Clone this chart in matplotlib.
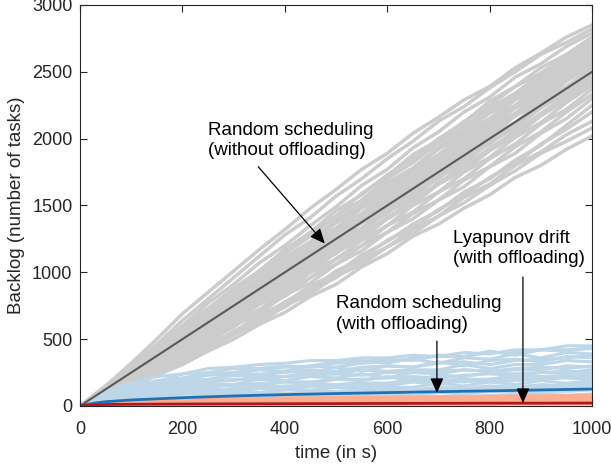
import matplotlib.pyplot as plt
import numpy as np

plt.rcParams['font.family'] = ['Liberation Sans', 'DejaVu Sans']

# sample times of the individual runs (every 50 s)
t = np.arange(0, 1001, 50)

# Random scheduling without offloading - individual runs
gray_runs = [
    [0, 150, 320, 500, 690, 850, 1010, 1170, 1320, 1480, 1620, 1770, 1890, 2040, 2160, 2290, 2390, 2530, 2640, 2760, 2850],
    [0, 140, 310, 460, 640, 800, 960, 1120, 1280, 1410, 1570, 1700, 1850, 1980, 2130, 2240, 2380, 2500, 2630, 2720, 2820],
    [0, 130, 290, 450, 600, 770, 910, 1070, 1200, 1350, 1490, 1650, 1770, 1930, 2050, 2200, 2310, 2460, 2560, 2690, 2790],
    [0, 150, 290, 430, 590, 730, 880, 1010, 1170, 1300, 1460, 1580, 1730, 1850, 2000, 2120, 2280, 2390, 2530, 2630, 2760],
    [0, 120, 280, 420, 570, 710, 850, 1010, 1140, 1300, 1420, 1590, 1720, 1880, 1990, 2130, 2250, 2390, 2490, 2620, 2730],
    [0, 140, 270, 420, 560, 700, 860, 980, 1140, 1270, 1420, 1540, 1700, 1820, 1970, 2090, 2230, 2340, 2480, 2590, 2710],
    [0, 130, 270, 390, 550, 670, 830, 950, 1110, 1230, 1390, 1510, 1670, 1780, 1940, 2060, 2210, 2320, 2470, 2570, 2700],
    [0, 120, 250, 390, 510, 660, 780, 940, 1060, 1220, 1330, 1490, 1610, 1760, 1880, 2030, 2150, 2300, 2420, 2560, 2690],
    [0, 110, 260, 380, 530, 650, 810, 930, 1090, 1210, 1370, 1490, 1640, 1770, 1920, 2040, 2190, 2300, 2450, 2560, 2680],
    [0, 130, 240, 380, 500, 650, 770, 920, 1050, 1200, 1320, 1480, 1600, 1750, 1870, 2020, 2140, 2290, 2400, 2540, 2660],
    [0, 120, 250, 360, 510, 620, 780, 890, 1050, 1170, 1320, 1440, 1600, 1720, 1870, 1990, 2140, 2250, 2400, 2520, 2650],
    [0, 100, 250, 350, 500, 610, 770, 880, 1040, 1150, 1310, 1420, 1580, 1690, 1850, 1960, 2120, 2230, 2380, 2500, 2630],
    [0, 110, 230, 370, 480, 620, 750, 880, 1010, 1160, 1280, 1420, 1560, 1690, 1820, 1970, 2090, 2240, 2360, 2500, 2620],
    [0, 130, 230, 370, 480, 630, 740, 890, 1010, 1160, 1280, 1430, 1540, 1700, 1810, 1960, 2080, 2230, 2340, 2490, 2610],
    [0, 110, 240, 340, 490, 600, 740, 860, 1010, 1120, 1280, 1390, 1540, 1660, 1810, 1930, 2080, 2190, 2350, 2460, 2600],
    [0, 100, 230, 330, 470, 580, 730, 840, 990, 1100, 1250, 1370, 1520, 1630, 1790, 1900, 2050, 2170, 2320, 2440, 2580],
    [0, 100, 210, 340, 450, 590, 700, 840, 970, 1110, 1230, 1380, 1500, 1640, 1760, 1910, 2030, 2180, 2300, 2440, 2560],
    [0, 120, 220, 350, 450, 600, 700, 850, 960, 1110, 1220, 1370, 1480, 1630, 1750, 1900, 2010, 2170, 2280, 2430, 2550],
    [0, 100, 220, 320, 460, 560, 710, 810, 960, 1070, 1220, 1330, 1490, 1600, 1750, 1860, 2010, 2120, 2280, 2390, 2530],
    [0, 90, 200, 310, 440, 550, 690, 800, 940, 1060, 1200, 1320, 1460, 1580, 1720, 1850, 1990, 2110, 2250, 2380, 2510],
    [0, 110, 200, 330, 430, 570, 670, 820, 920, 1070, 1180, 1330, 1440, 1590, 1700, 1860, 1960, 2110, 2230, 2370, 2500],
    [0, 90, 210, 300, 440, 540, 680, 790, 930, 1040, 1190, 1300, 1450, 1560, 1710, 1820, 1970, 2080, 2230, 2340, 2480],
    [0, 90, 190, 300, 410, 530, 650, 770, 900, 1020, 1160, 1270, 1410, 1530, 1670, 1790, 1930, 2050, 2190, 2320, 2460],
    [0, 110, 190, 310, 410, 550, 650, 790, 890, 1040, 1140, 1290, 1400, 1550, 1660, 1810, 1910, 2060, 2180, 2320, 2450],
    [0, 90, 200, 290, 420, 520, 650, 760, 900, 1000, 1150, 1250, 1400, 1510, 1660, 1760, 1910, 2020, 2170, 2290, 2430],
    [0, 100, 180, 300, 390, 520, 620, 760, 860, 1000, 1100, 1240, 1350, 1500, 1600, 1750, 1860, 2010, 2120, 2270, 2400],
    [0, 80, 190, 270, 400, 490, 620, 720, 860, 960, 1100, 1200, 1350, 1450, 1600, 1700, 1850, 1960, 2110, 2220, 2370],
    [0, 90, 170, 280, 370, 490, 590, 720, 820, 960, 1060, 1200, 1300, 1440, 1540, 1690, 1790, 1940, 2050, 2200, 2330],
    [0, 80, 180, 260, 380, 470, 600, 690, 830, 920, 1060, 1160, 1300, 1400, 1540, 1640, 1790, 1890, 2040, 2150, 2300],
    [0, 80, 160, 260, 350, 460, 550, 680, 770, 900, 990, 1130, 1230, 1360, 1460, 1600, 1700, 1840, 1950, 2100, 2250],
    [0, 70, 170, 240, 360, 440, 560, 650, 780, 870, 1010, 1100, 1240, 1330, 1470, 1570, 1710, 1810, 1960, 2070, 2200],
    [0, 80, 150, 250, 330, 440, 530, 650, 740, 870, 960, 1090, 1190, 1320, 1420, 1560, 1660, 1800, 1900, 2030, 2130],
    [0, 70, 160, 230, 340, 420, 540, 620, 750, 840, 970, 1060, 1190, 1290, 1420, 1520, 1650, 1760, 1890, 1980, 2080],
    [0, 70, 140, 230, 310, 410, 500, 610, 700, 820, 910, 1040, 1140, 1270, 1360, 1480, 1580, 1710, 1800, 1920, 2020],
]
gray_mean_t = [0, 1000]
gray_mean = [0, 2500]

# Random scheduling with offloading - individual runs
blue_runs = [
    [0, 120, 170, 220, 240, 280, 290, 310, 320, 340, 340, 360, 360, 380, 370, 400, 390, 420, 420, 450, 450],
    [0, 100, 140, 190, 210, 240, 250, 280, 300, 290, 320, 330, 350, 340, 380, 370, 400, 400, 420, 410, 440],
    [0, 90, 160, 180, 240, 250, 280, 280, 290, 300, 330, 340, 320, 360, 370, 370, 410, 380, 420, 420, 430],
    [0, 80, 130, 180, 200, 230, 240, 270, 260, 300, 290, 320, 330, 350, 320, 360, 350, 390, 360, 400, 390],
    [0, 80, 120, 160, 190, 200, 230, 240, 250, 270, 260, 290, 300, 290, 320, 330, 310, 340, 350, 360, 380],
    [0, 70, 130, 150, 190, 190, 230, 220, 260, 250, 290, 260, 300, 290, 330, 300, 340, 350, 330, 370, 360],
    [0, 60, 100, 140, 150, 190, 190, 220, 220, 250, 240, 270, 260, 270, 270, 310, 280, 310, 310, 340, 330],
    [0, 70, 110, 140, 170, 180, 200, 200, 220, 230, 240, 230, 250, 250, 260, 270, 260, 280, 290, 280, 300],
    [0, 70, 90, 130, 140, 170, 160, 200, 190, 220, 210, 240, 210, 250, 240, 270, 260, 270, 270, 300, 290],
    [0, 50, 90, 100, 130, 140, 160, 150, 180, 170, 200, 190, 220, 190, 230, 220, 250, 240, 250, 250, 270],
    [0, 50, 80, 110, 130, 150, 150, 170, 180, 180, 200, 200, 210, 220, 210, 230, 240, 230, 250, 260, 250],
    [0, 40, 70, 100, 100, 130, 120, 150, 140, 170, 160, 170, 170, 200, 190, 200, 200, 230, 220, 230, 240],
    [0, 40, 70, 80, 110, 110, 130, 130, 150, 150, 160, 170, 170, 180, 190, 180, 200, 210, 200, 220, 220],
    [0, 50, 60, 90, 90, 110, 110, 130, 120, 150, 140, 150, 150, 180, 160, 190, 180, 190, 200, 210, 200],
    [0, 30, 60, 70, 90, 90, 110, 100, 120, 120, 140, 130, 140, 140, 170, 150, 180, 160, 190, 170, 190],
    [0, 30, 40, 60, 60, 80, 90, 100, 90, 110, 110, 120, 130, 120, 140, 130, 150, 140, 160, 150, 170],
    [0, 20, 40, 50, 60, 70, 70, 80, 90, 90, 100, 100, 110, 110, 120, 120, 130, 120, 140, 130, 150],
    [0, 20, 30, 40, 50, 50, 60, 60, 70, 70, 80, 80, 90, 80, 100, 90, 110, 100, 110, 110, 120],
    [0, 10, 20, 30, 30, 40, 40, 50, 50, 60, 50, 60, 70, 60, 70, 70, 80, 80, 90, 80, 90],
    [0, 10, 10, 20, 20, 30, 30, 30, 40, 40, 40, 40, 50, 50, 50, 50, 60, 60, 60, 60, 70],
]
blue_mean_t = [0, 25, 50, 100, 200, 300, 400, 500, 600, 700, 800, 900, 1000]
blue_mean = [0, 20, 32, 45, 62, 75, 85, 93, 100, 107, 113, 120, 127]

# Lyapunov drift with offloading - individual runs
red_runs = [
    [0, 25, 35, 40, 45, 50, 55, 55, 60, 60, 62, 65, 65, 68, 70, 70, 72, 75, 75, 78, 80],
    [0, 20, 28, 32, 38, 42, 45, 48, 50, 52, 55, 55, 58, 60, 60, 62, 65, 65, 68, 70, 70],
    [0, 15, 22, 28, 30, 35, 38, 40, 42, 45, 45, 48, 50, 50, 52, 55, 55, 58, 58, 60, 62],
    [0, 12, 18, 22, 25, 28, 30, 32, 35, 35, 38, 40, 40, 42, 45, 45, 48, 48, 50, 50, 52],
    [0, 10, 15, 18, 20, 22, 25, 25, 28, 30, 30, 32, 32, 35, 35, 38, 38, 40, 40, 42, 42],
    [0, 8, 10, 12, 15, 15, 18, 18, 20, 20, 22, 22, 24, 24, 25, 26, 26, 28, 28, 30, 30],
    [0, 5, 8, 10, 10, 12, 12, 14, 14, 15, 15, 16, 16, 18, 18, 18, 20, 20, 20, 22, 22],
    [0, 3, 5, 5, 6, 6, 8, 8, 8, 10, 10, 10, 10, 12, 12, 12, 12, 14, 14, 14, 15],
]
red_mean_t = [0, 25, 50, 100, 200, 300, 400, 500, 600, 700, 800, 900, 1000]
red_mean = [0, 8, 11, 13, 15, 16, 17, 18, 19, 20, 21, 21, 22]

fig = plt.figure(figsize=(6.11, 4.74), dpi=100)
ax = fig.add_axes([0.131, 0.1435, 0.838, 0.846])

for r in gray_runs:
    ax.plot(t, r, color=(0.8, 0.8, 0.8), lw=2.5)
for r in blue_runs:
    ax.plot(t, r, color=(0.74, 0.84, 0.91), lw=2.2)
for r in red_runs:
    ax.plot(t, r, color=(0.98, 0.68, 0.57), lw=2.2)

ax.plot(gray_mean_t, gray_mean, color=(0.35, 0.35, 0.35), lw=1.5)
ax.plot(blue_mean_t, blue_mean, color=(0.13, 0.44, 0.71), lw=2)
ax.plot(red_mean_t, red_mean, color=(0.70, 0.09, 0.11), lw=2)

# annotations
arrow = dict(arrowstyle='-|>,head_length=0.9,head_width=0.4', color='k', lw=0.9,
             shrinkA=0, shrinkB=0)
fs = 13.5
ax.text(250, 1985, 'Random scheduling\n(without offloading)', fontsize=fs,
        va='center', ha='left', linespacing=1.25)
ax.annotate('', xy=(478, 1215), xytext=(348, 1790), arrowprops=arrow)

ax.text(729, 1180, 'Lyapunov drift\n(with offloading)', fontsize=fs,
        va='center', ha='left', linespacing=1.25)
ax.annotate('', xy=(865, 22), xytext=(865, 965), arrowprops=arrow)

ax.text(500, 688, 'Random scheduling\n(with offloading)', fontsize=fs,
        va='center', ha='left', linespacing=1.25)
ax.annotate('', xy=(697, 97), xytext=(697, 486), arrowprops=arrow)

ax.set_xlim(0, 1000)
ax.set_ylim(0, 3000)
ax.set_xticks(np.arange(0, 1001, 200))
ax.set_yticks(np.arange(0, 3001, 500))
ax.tick_params(direction='in', top=True, right=True, length=5, width=0.8,
               labelsize=13, colors=(0.15, 0.15, 0.15))
ax.tick_params(axis='x', pad=11)
ax.tick_params(axis='y', pad=5.5)
for s in ax.spines.values():
    s.set_color((0.15, 0.15, 0.15))
    s.set_linewidth(0.8)
ax.set_xlabel('time (in s)', fontsize=fs, color=(0.15, 0.15, 0.15), labelpad=5)
ax.set_ylabel('Backlog (number of tasks)', fontsize=fs, color=(0.15, 0.15, 0.15), labelpad=5)

fig.savefig('out.png', dpi=100)
